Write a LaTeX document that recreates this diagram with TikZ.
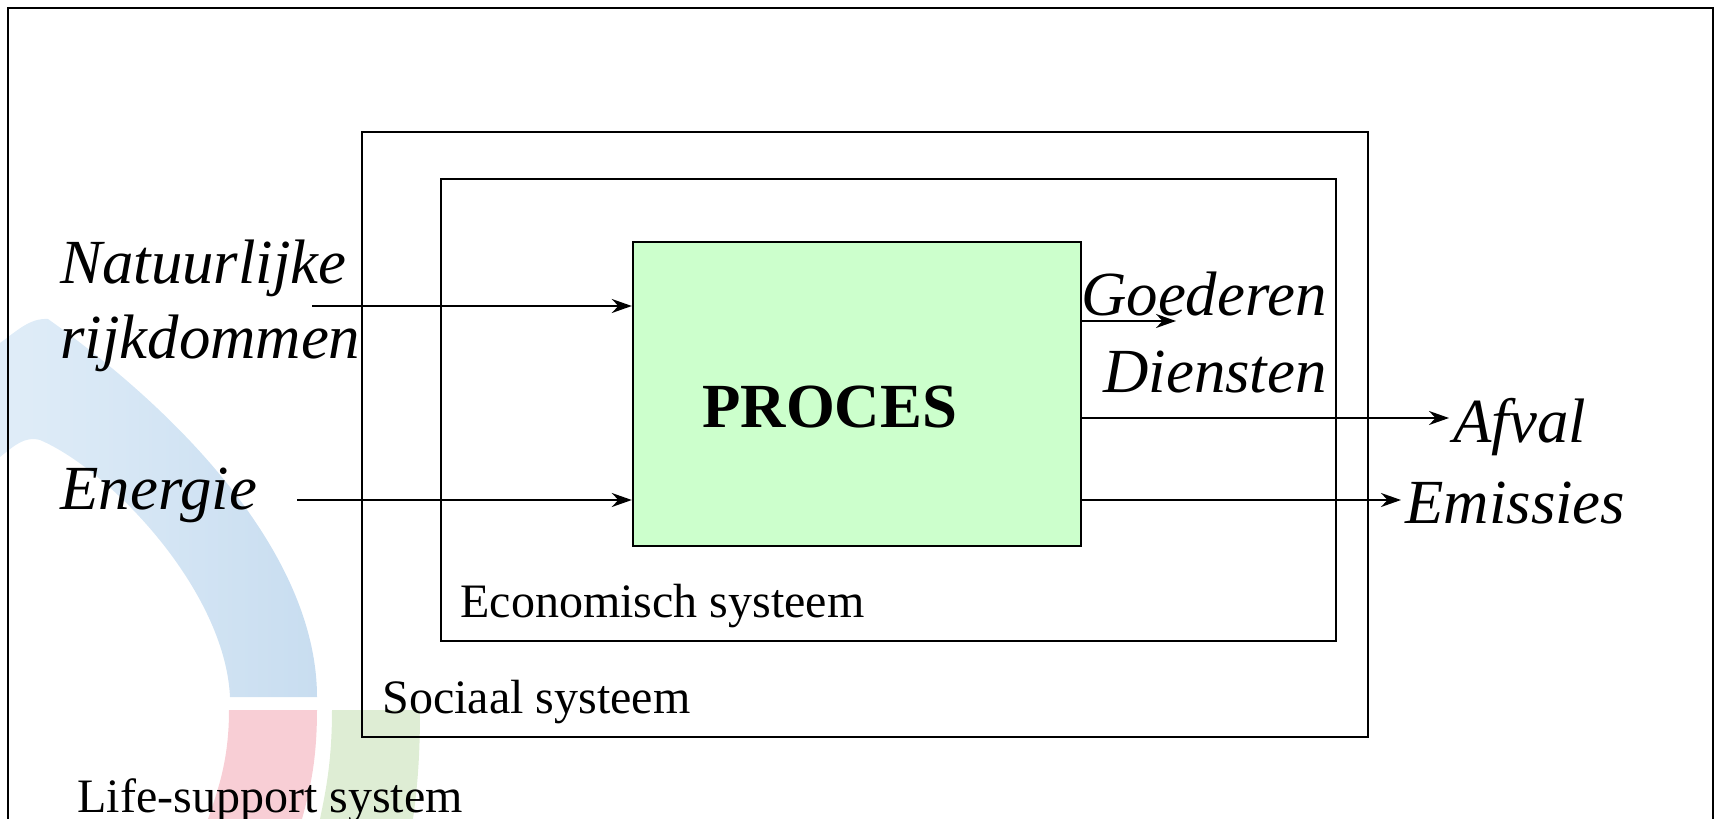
\documentclass[tikz,border=0pt]{standalone}
\usepackage{fontspec}
\setmainfont{Liberation Serif}
\usetikzlibrary{arrows.meta}
\definecolor{lichtblauw}{RGB}{224,237,248}
\definecolor{blauw}{RGB}{200,221,240}
\definecolor{roze}{RGB}{248,206,213}
\definecolor{lichtgroen}{RGB}{222,237,212}
\definecolor{procesgroen}{RGB}{204,255,204}
\tikzset{
  kader/.style={line width=1.2pt},
  pijl/.style={line width=1pt,-{Stealth[length=10pt,width=7pt]}},
  groot/.style={inner sep=0pt,font=\fontsize{31.4}{36}\selectfont\itshape},
  klein/.style={inner sep=0pt,font=\fontsize{24}{28}\selectfont},
}

\begin{document}
\begin{tikzpicture}[x=0.5pt,y=-0.5pt]
\useasboundingbox (0,0) rectangle (1719,819);
% logo op de achtergrond
\shade[left color=lichtblauw,right color=blauw] (0,343) .. controls (18,330) and (30,318) .. (48,319) .. controls (190,420) and (317,560) .. (317,697) -- (230,697) .. controls (225,590) and (110,470) .. (40,440) .. controls (25,436) and (15,445) .. (0,457) -- cycle;
\fill[roze] (229,710) -- (317,710) .. controls (317,760) and (310,790) .. (302,819) -- (208,819) .. controls (218,790) and (229,760) .. (229,710);
\fill[lichtgroen] (332,710) -- (420,710) .. controls (420,760) and (417,790) .. (413,819) -- (320,819) .. controls (326,790) and (332,760) .. (332,710);
% kaders
\draw[kader] (8,819) -- (8,8) -- (1713,8) -- (1713,819);
\draw[kader] (362,132) rectangle (1368,737);
\draw[kader] (441,179) rectangle (1336,641);
\node[kader,draw,fill=procesgroen,minimum width=224pt,minimum height=152pt,inner sep=0pt] (proces) at (857,394) {};
\node[inner sep=0pt,anchor=base west,font=\fontsize{31.4}{36}\selectfont\bfseries] (procestekst) at (702,427) {PROCES};
% teksten
\node[groot,anchor=base west] (natuur) at (60,283) {Natuurlijke};
\node[groot,anchor=base west] (rijk) at (60,358) {rijkdommen};
\node[groot,anchor=base west] (energie) at (60,509) {Energie};
\node[groot,anchor=base east] (goederen) at (1327,315) {Goederen};
\node[groot,anchor=base east] (diensten) at (1327,392) {Diensten};
\node[groot,anchor=base west] (afval) at (1453,442) {Afval};
\node[groot,anchor=base west] (emissies) at (1405,523) {Emissies};
\node[klein,anchor=base west] (economisch) at (460,617) {Economisch systeem};
\node[klein,anchor=base west] (sociaal) at (382,713) {Sociaal systeem};
\node[klein,anchor=base west] (life) at (77,812) {Life-support system};
% pijlen
\coordinate (natin) at (312,306);
\coordinate (energiein) at (297,500);
\coordinate (goederenuit) at (1176,321);
\coordinate (afvaluit) at (1449,418);
\coordinate (emissiesuit) at (1401,500);
\draw[pijl] (natin) -- (natin -| proces.west);
\draw[pijl] (energiein) -- (energiein -| proces.west);
\draw[pijl] (proces.east |- goederenuit) -- (goederenuit);
\draw[pijl] (proces.east |- afvaluit) -- (afvaluit);
\draw[pijl] (proces.east |- emissiesuit) -- (emissiesuit);
\end{tikzpicture}
\end{document}
